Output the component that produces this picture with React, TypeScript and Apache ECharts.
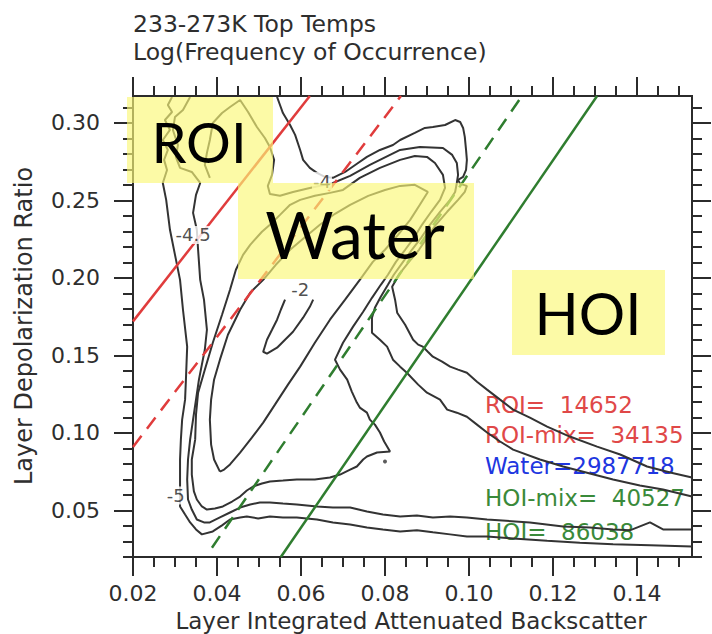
import React, { useEffect, useRef } from "react";
import * as echarts from "echarts";

type Pt = [number, number];

// ---------- axis ranges and ticks (data units) ----------
const X_RANGE: Pt = [0.02, 0.1531];
const Y_RANGE: Pt = [0.02, 0.3174];
const xMajor = { min: 0.02, max: 0.14, step: 0.02 };
const xMinor = { min: 0.02, max: 0.15, step: 0.005 };
const yMajor = { min: 0.05, max: 0.3, step: 0.05 };
const yMinor = { min: 0.02, max: 0.31, step: 0.01 };

// ---------- texts ----------
const TITLE_LINES = ["233-273K Top Temps", "Log(Frequency of Occurrence)"];
const X_NAME = "Layer Integrated Attenuated Backscatter";
const Y_NAME = "Layer Depolarization Ratio";
const REGION_NAMES = ["ROI", "Water", "HOI"];
const COUNT_LABELS = ["ROI=  14652", "ROI-mix=  34135", "Water=2987718", "HOI-mix=  40527", "HOI=  86038"];

// ---------- contour lines (log frequency of occurrence) ----------
const contourNeg5Left: Pt[] = [
  [0.0293, 0.3168], [0.0283, 0.3116], [0.0293, 0.3071], [0.0276, 0.3019], [0.0288, 0.2955], [0.0271, 0.289],
  [0.0283, 0.2826], [0.0274, 0.2762], [0.0281, 0.2697], [0.0271, 0.2613], [0.0279, 0.2504], [0.0288, 0.2311],
  [0.03, 0.2149], [0.0312, 0.1988], [0.0319, 0.1795], [0.0329, 0.1557], [0.0326, 0.1344], [0.0324, 0.1215],
  [0.0317, 0.1086], [0.0314, 0.0957], [0.0312, 0.0829], [0.0312, 0.0668], [0.0312, 0.0526], [0.0324, 0.0474],
  [0.0336, 0.0423], [0.035, 0.0378], [0.0364, 0.0346], [0.039, 0.0365], [0.0412, 0.0404], [0.0431, 0.0442],
  [0.0455, 0.0455], [0.0471, 0.0461], [0.0498, 0.0449], [0.0526, 0.0461], [0.0557, 0.0455], [0.059, 0.0455],
  [0.0638, 0.0442], [0.0676, 0.0423], [0.0717, 0.041], [0.0757, 0.0391], [0.0795, 0.0378], [0.0836, 0.0365],
  [0.0876, 0.0372], [0.0914, 0.0359], [0.0955, 0.0346], [0.0995, 0.0333], [0.1043, 0.0333], [0.1105, 0.032],
  [0.1186, 0.0305], [0.1264, 0.0292], [0.1343, 0.0282], [0.1431, 0.0275], [0.1531, 0.0268],
];

const contourNeg45Left: Pt[] = [
  [0.0336, 0.3168], [0.0319, 0.3084], [0.03, 0.3039], [0.0295, 0.2955], [0.0307, 0.2858], [0.0302, 0.2781],
  [0.0312, 0.271], [0.034, 0.2684], [0.036, 0.2613], [0.035, 0.2536], [0.0343, 0.242], [0.0352, 0.2311],
  [0.0355, 0.2182], [0.036, 0.1988], [0.0369, 0.186], [0.0376, 0.1666], [0.0371, 0.1537], [0.0364, 0.1441],
  [0.0357, 0.1344], [0.035, 0.1215], [0.0343, 0.1086], [0.0336, 0.0957], [0.0331, 0.0829], [0.0329, 0.07],
  [0.0331, 0.0571], [0.034, 0.0506], [0.0352, 0.0442], [0.0369, 0.0423], [0.0383, 0.0423], [0.0407, 0.0455],
  [0.0431, 0.0487], [0.0455, 0.0519], [0.0479, 0.0539], [0.0502, 0.0552], [0.0526, 0.0552], [0.0557, 0.0545],
  [0.059, 0.0539], [0.0638, 0.0526], [0.0676, 0.0519], [0.0717, 0.0519], [0.0757, 0.0494], [0.0795, 0.0474],
  [0.0836, 0.0461], [0.0876, 0.0468], [0.0914, 0.0455], [0.0955, 0.0461], [0.0995, 0.0455], [0.1043, 0.0442],
  [0.1145, 0.0423], [0.1224, 0.0397], [0.1288, 0.0391], [0.1343, 0.0378], [0.1383, 0.0372], [0.1431, 0.0423],
  [0.1462, 0.0378], [0.1531, 0.0378],
];

const contourNeg5Right: Pt[] = [
  [0.0543, 0.3168], [0.055, 0.3116], [0.0557, 0.3064], [0.0574, 0.2987], [0.0586, 0.2923], [0.0598, 0.2826],
  [0.0605, 0.2762], [0.0621, 0.271], [0.0638, 0.2678], [0.0657, 0.2652], [0.0676, 0.2646], [0.0705, 0.2684],
  [0.0729, 0.2729], [0.0757, 0.2781], [0.0788, 0.2826], [0.0819, 0.2858], [0.0836, 0.289], [0.0871, 0.2936],
  [0.0895, 0.2968], [0.0914, 0.2974], [0.0943, 0.2987], [0.0967, 0.3019], [0.0979, 0.3006], [0.0986, 0.2968],
  [0.099, 0.291], [0.0993, 0.2826], [0.0995, 0.2762], [0.0993, 0.2697], [0.0986, 0.2652], [0.0974, 0.2633],
  [0.0979, 0.2607], [0.0995, 0.2594], [0.099, 0.2555], [0.0974, 0.2504], [0.0948, 0.2427], [0.0921, 0.2343],
  [0.09, 0.2259], [0.0881, 0.2182], [0.0857, 0.2104], [0.0833, 0.2021], [0.0817, 0.1943], [0.0824, 0.186],
  [0.0829, 0.1776], [0.0848, 0.1698], [0.0867, 0.1602], [0.0879, 0.157], [0.089, 0.1557], [0.0902, 0.1524],
  [0.0914, 0.1492], [0.0936, 0.146], [0.0955, 0.1428], [0.0974, 0.1409], [0.0995, 0.1389], [0.1019, 0.1331],
  [0.1043, 0.128], [0.1074, 0.1215], [0.1105, 0.1151], [0.1145, 0.1099], [0.1186, 0.1041], [0.124, 0.0977],
  [0.1305, 0.0912], [0.136, 0.0861], [0.1424, 0.0784], [0.1479, 0.0745], [0.1531, 0.0713],
];

const contourNeg45Right: Pt[] = [
  [0.0383, 0.2646], [0.0371, 0.2729], [0.0376, 0.2807], [0.0383, 0.289], [0.039, 0.3], [0.0412, 0.3064],
  [0.0431, 0.3103], [0.0455, 0.3148], [0.0474, 0.3071], [0.0495, 0.2974], [0.0514, 0.2903], [0.0526, 0.2845],
  [0.0536, 0.2762], [0.0531, 0.2665], [0.0521, 0.2594], [0.0526, 0.2542], [0.055, 0.253], [0.0581, 0.2555],
  [0.0621, 0.2581], [0.0676, 0.2613], [0.0717, 0.2659], [0.0764, 0.2729], [0.0836, 0.2826], [0.0883, 0.2845],
  [0.0938, 0.2839], [0.096, 0.2794], [0.0971, 0.2742], [0.0974, 0.2665], [0.0971, 0.2613], [0.0967, 0.2555],
  [0.0955, 0.2504], [0.0931, 0.2427], [0.0907, 0.2343], [0.0886, 0.2259], [0.0864, 0.2182], [0.0843, 0.2104],
  [0.0821, 0.2021], [0.0807, 0.1956], [0.079, 0.1879], [0.0776, 0.1808], [0.0769, 0.1744], [0.0769, 0.1647],
  [0.0788, 0.1602], [0.0805, 0.1557], [0.0819, 0.1473], [0.0836, 0.1428], [0.0852, 0.1389], [0.0879, 0.1312],
  [0.09, 0.126], [0.0931, 0.1215], [0.0948, 0.1151], [0.0971, 0.1131], [0.0995, 0.1105], [0.1019, 0.1054],
  [0.1043, 0.1003], [0.1074, 0.0945], [0.1105, 0.0893], [0.1169, 0.0829], [0.1224, 0.0784], [0.1288, 0.0739],
  [0.1343, 0.07], [0.1407, 0.0661], [0.1462, 0.0635], [0.1531, 0.059],
];

const contourNeg4: Pt[] = [
  [0.0348, 0.0957], [0.034, 0.0829], [0.034, 0.0732], [0.0345, 0.0623], [0.0352, 0.0571], [0.0364, 0.0526],
  [0.0376, 0.0506], [0.0395, 0.0513], [0.0414, 0.0526], [0.0436, 0.0558], [0.0455, 0.059], [0.0471, 0.0629],
  [0.0486, 0.0655], [0.0507, 0.0674], [0.0526, 0.0687], [0.0557, 0.0693], [0.059, 0.07], [0.0633, 0.07],
  [0.0669, 0.0713], [0.0693, 0.0732], [0.0717, 0.0764], [0.0733, 0.0784], [0.0748, 0.0829], [0.0757, 0.0848],
  [0.0781, 0.0874], [0.0812, 0.088], [0.0798, 0.0945], [0.0788, 0.1003], [0.0776, 0.1054], [0.0764, 0.1086],
  [0.0757, 0.1131], [0.074, 0.1164], [0.0733, 0.1196], [0.0721, 0.1267], [0.071, 0.1344], [0.0693, 0.1409],
  [0.0681, 0.1473], [0.07, 0.1582], [0.0724, 0.1686], [0.0748, 0.1782], [0.0769, 0.1872], [0.079, 0.1956],
  [0.0807, 0.2021], [0.0826, 0.2104], [0.0848, 0.2182], [0.0869, 0.2259], [0.0888, 0.2343], [0.091, 0.2427],
  [0.0931, 0.2504], [0.0943, 0.2581], [0.0938, 0.2665], [0.0919, 0.2742], [0.09, 0.2781], [0.0871, 0.2787],
  [0.0836, 0.2762], [0.0788, 0.271], [0.074, 0.2646], [0.07, 0.2568], [0.0669, 0.2549], [0.0633, 0.253],
  [0.0598, 0.2504], [0.0574, 0.2472], [0.055, 0.2407], [0.0526, 0.2343], [0.0507, 0.2298], [0.0479, 0.2214],
  [0.0462, 0.2149], [0.0445, 0.2053], [0.0431, 0.1924], [0.0412, 0.1763], [0.039, 0.1582], [0.0371, 0.1408],
  [0.0355, 0.126], [0.035, 0.1118], [0.0348, 0.0957],
];

const contourNeg3: Pt[] = [
  [0.0407, 0.0751], [0.0393, 0.0829], [0.0386, 0.0925], [0.0383, 0.1086], [0.0386, 0.1215], [0.0393, 0.1344],
  [0.0407, 0.1473], [0.0426, 0.1634], [0.0455, 0.1795], [0.0479, 0.1905], [0.051, 0.1988], [0.054, 0.2085],
  [0.0574, 0.2182], [0.061, 0.2265], [0.0645, 0.2343], [0.0681, 0.2414], [0.0717, 0.2472], [0.076, 0.253],
  [0.08, 0.2568], [0.0836, 0.2594], [0.0871, 0.2601], [0.0902, 0.2555], [0.0883, 0.2472], [0.086, 0.2375],
  [0.0831, 0.2278], [0.08, 0.2182], [0.0771, 0.2104], [0.074, 0.1988], [0.0705, 0.186], [0.0669, 0.1731],
  [0.0633, 0.1582], [0.0598, 0.1428], [0.0569, 0.1312], [0.0538, 0.1183], [0.051, 0.1067], [0.0483, 0.097],
  [0.0455, 0.0874], [0.0431, 0.0797], [0.0417, 0.0764], [0.0407, 0.0751],
];

const contourNeg2: Pt[] = [
  [0.0562, 0.186], [0.0552, 0.1795], [0.0543, 0.1731], [0.0531, 0.1666], [0.0519, 0.1602], [0.051, 0.1524],
  [0.0519, 0.1512], [0.0531, 0.1531], [0.0543, 0.155], [0.0562, 0.1602], [0.0581, 0.1653], [0.0605, 0.1744],
  [0.0621, 0.1814], [0.0629, 0.186],
];

const contourDot: Pt[] = [[0.08, 0.0816]];

const contourLabels: { text: string; pos: Pt }[] = [
  { text: "-4.5", pos: [0.0343, 0.2278] },
  { text: "-5", pos: [0.0302, 0.0597] },
  { text: "-2", pos: [0.0598, 0.1924] },
  { text: "-4", pos: [0.065, 0.2625] },
];

// ---------- classification boundaries ----------
const roiLine: Pt[] = [[0.02, 0.172], [0.0621, 0.3174]];
const roiMixLine: Pt[] = [[0.02, 0.091], [0.0838, 0.3174]];
const hoiMixLine: Pt[] = [[0.0388, 0.026], [0.1126, 0.3174]];
const hoiLine: Pt[] = [[0.0552, 0.02], [0.1305, 0.3174]];

// ---------- layout / styles ----------
const L = 133, T = 96, W = 559, H = 461;
const FONT = '"DejaVu Sans", Verdana, sans-serif';
const BOX_FONT = 'Lato, "Open Sans", sans-serif';
const AXIS_COLOR = "#2b2b2b";
const TEXT_COLOR = "#2e2e2e";
const RED = "#e03c3c";
const GREEN = "#2f7d2f";
const COUNT_COLORS = ["#e04848", "#e04848", "#2036e0", "#3a8a3a", "#3a8a3a"];
const BOX_FILL = "rgba(250,248,120,0.66)";

const xPix = (v: number) => (W * (v - X_RANGE[0])) / (X_RANGE[1] - X_RANGE[0]);
const yPix = (v: number) => (H * (Y_RANGE[1] - v)) / (Y_RANGE[1] - Y_RANGE[0]);

function tickAxis(gridIndex: number, position: string, r: { min: number; max: number; step: number }, len: number, label: boolean, margin = 0) {
  return {
    type: "value",
    gridIndex,
    position,
    min: r.min,
    max: r.max,
    interval: r.step,
    axisLine: { show: false, onZero: false },
    axisTick: { show: true, length: len, inside: false, lineStyle: { color: AXIS_COLOR, width: 2 } },
    splitLine: { show: false },
    axisLabel: label
      ? { show: true, formatter: (v: number) => v.toFixed(2), fontSize: 22, color: TEXT_COLOR, fontFamily: FONT, margin }
      : { show: false },
  };
}
const hiddenAxis = (gridIndex: number) => ({
  type: "value", gridIndex, min: 0, max: 1, show: false, axisLine: { onZero: false },
});

function buildOption() {
  const contourStyle = { color: "#333", width: 2 };
  const contours = [contourNeg5Left, contourNeg45Left, contourNeg5Right, contourNeg45Right, contourNeg4, contourNeg3, contourNeg2];
  const contourSeries = contours.map((d) => ({
    type: "line", xAxisIndex: 0, yAxisIndex: 0, data: d, showSymbol: false, symbol: "none",
    lineStyle: contourStyle, z: 3, silent: true,
  }));
  const boundary = (d: Pt[], color: string, dashed: boolean) => ({
    type: "line", xAxisIndex: 0, yAxisIndex: 0, data: d, showSymbol: false, symbol: "none", silent: true, z: 4,
    lineStyle: { color, width: 2.5, type: dashed ? [14, 9] : "solid" },
  });

  const boxes = [
    { x: 127, y: 97, w: 146, h: 86, cx: 199, cy: 141, size: 56 },
    { x: 238, y: 183, w: 236, h: 96, cx: 355, cy: 233, size: 66 },
    { x: 512, y: 270, w: 153, h: 85, cx: 588, cy: 312, size: 58 },
  ];
  const countY = [405, 435, 466, 498, 532];

  const graphic: any[] = [];
  boxes.forEach((b, i) => {
    graphic.push({ type: "rect", z: 50, shape: { x: b.x, y: b.y, width: b.w, height: b.h }, style: { fill: BOX_FILL } });
    graphic.push({
      type: "text", z: 51, x: b.cx, y: b.cy,
      style: { text: REGION_NAMES[i], fill: "#000", font: `normal ${b.size}px ${BOX_FONT}`, textAlign: "center", textVerticalAlign: "middle" },
    });
  });
  COUNT_LABELS.forEach((t, i) => {
    graphic.push({
      type: "text", z: 1, x: 485, y: countY[i],
      style: { text: t, fill: COUNT_COLORS[i], font: `normal 23px ${FONT}`, textAlign: "left", textVerticalAlign: "middle" },
    });
  });
  TITLE_LINES.forEach((t, i) => {
    graphic.push({
      type: "text", x: 133, y: 24 + i * 28,
      style: { text: t, fill: TEXT_COLOR, font: `normal 23.5px ${FONT}`, textAlign: "left", textVerticalAlign: "middle" },
    });
  });
  graphic.push({
    type: "text", x: 411, y: 621,
    style: { text: X_NAME, fill: TEXT_COLOR, font: `normal 23px ${FONT}`, textAlign: "center", textVerticalAlign: "middle" },
  });
  graphic.push({
    type: "text", x: 24, y: 326, rotation: Math.PI / 2,
    style: { text: Y_NAME, fill: TEXT_COLOR, font: `normal 24px ${FONT}`, textAlign: "center", textVerticalAlign: "middle" },
  });

  return {
    animation: false,
    backgroundColor: "#fff",
    grid: [
      { left: L, top: T, width: W, height: H, show: true, borderColor: AXIS_COLOR, borderWidth: 2, backgroundColor: "transparent" },
      { left: L, top: T, width: xPix(xMajor.max), height: H },
      { left: L, top: T, width: xPix(xMinor.max), height: H },
      { left: L, width: W, top: T + yPix(yMajor.max), height: yPix(yMajor.min) - yPix(yMajor.max) },
      { left: L, width: W, top: T + yPix(yMinor.max), height: yPix(yMinor.min) - yPix(yMinor.max) },
    ],
    xAxis: [
      { type: "value", gridIndex: 0, min: X_RANGE[0], max: X_RANGE[1], show: false, axisLine: { onZero: false } },
      tickAxis(1, "bottom", xMajor, 19, true, 25),
      tickAxis(1, "top", xMajor, 19, false),
      tickAxis(2, "bottom", xMinor, 10, false),
      tickAxis(2, "top", xMinor, 10, false),
      hiddenAxis(3),
      hiddenAxis(4),
    ],
    yAxis: [
      { type: "value", gridIndex: 0, min: Y_RANGE[0], max: Y_RANGE[1], show: false, axisLine: { onZero: false } },
      hiddenAxis(1),
      hiddenAxis(2),
      tickAxis(3, "left", yMajor, 19, true, 33),
      tickAxis(3, "right", yMajor, 19, false),
      tickAxis(4, "left", yMinor, 10, false),
      tickAxis(4, "right", yMinor, 10, false),
    ],
    series: [
      ...contourSeries,
      boundary(roiLine, RED, false),
      boundary(roiMixLine, RED, true),
      boundary(hoiMixLine, GREEN, true),
      boundary(hoiLine, GREEN, false),
      {
        type: "scatter", xAxisIndex: 0, yAxisIndex: 0, data: contourDot, symbolSize: 4,
        itemStyle: { color: "#333" }, silent: true, z: 3,
      },
      {
        type: "scatter", xAxisIndex: 0, yAxisIndex: 0, silent: true, z: 5,
        data: contourLabels.map((c) => ({ name: c.text, value: c.pos })),
        symbolSize: 1, itemStyle: { color: "rgba(0,0,0,0)" },
        label: {
          show: true, position: "inside", formatter: "{b}", fontSize: 18, fontFamily: FONT,
          color: "#222", backgroundColor: "#fff", padding: [0, 1],
        },
      },
    ],
    graphic,
  };
}

export default function App() {
  const ref = useRef<HTMLDivElement>(null);
  useEffect(() => {
    if (!ref.current) return;
    const chart = echarts.init(ref.current, undefined, { renderer: "svg" });
    chart.setOption(buildOption() as any);
    return () => chart.dispose();
  }, []);
  return <div ref={ref} style={{ position: "absolute", left: 0, top: 0, width: 712, height: 634 }} />;
}
